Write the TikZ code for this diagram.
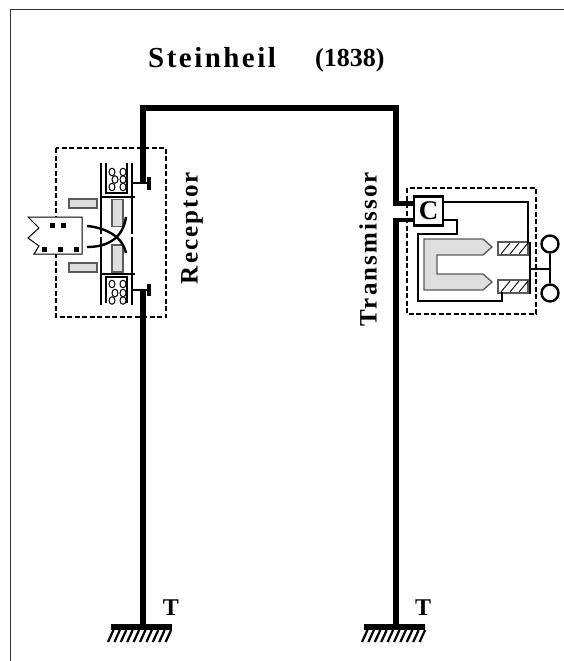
\documentclass[tikz,border=0pt]{standalone}
\usepackage{fontspec}
\setmainfont{Liberation Serif}
\newfontfamily\widefont[LetterSpace=8.5]{Liberation Serif}
\usepackage{tikz}
\usetikzlibrary{arrows.meta, positioning, calc}
\definecolor{magnetgray}{RGB}{222,222,222}
\definecolor{edgegray}{RGB}{90,90,90}
\tikzset{
  wire/.style={line width=5.8pt, line cap=butt, line join=miter},
  stubwire/.style={line width=4.4pt, line cap=butt},
  thinwire/.style={line width=2.6pt, line join=miter},
  boxline/.style={line width=1.3pt},
  dashbox/.style={line width=1.5pt, dash pattern=on 5pt off 2.5pt},
  graypart/.style={fill=magnetgray, draw=edgegray, line width=1.3pt},
  label/.style={font=\widefont\bfseries\fontsize{25}{27}\selectfont, inner sep=0pt},
  earthname/.style={font=\bfseries\fontsize{24}{24}\selectfont, inner sep=0pt},
  hatchline/.style={line width=2.2pt, line cap=butt},
  keyball/.style={draw, circle, line width=2.4pt, fill=white, minimum size=17pt, inner sep=0pt}
}
\begin{document}
\begin{tikzpicture}[x=1pt,y=-1pt]
  \useasboundingbox (0,0) rectangle (564,661);
  % Frame
  \draw[line width=1pt, black!80] (10,661) -- (10,10) -- (564,10);

  % --- Title ---
  \node[font=\widefont\bfseries\fontsize{29}{31}\selectfont, inner sep=0pt, anchor=west] (title) at (148,58) {Steinheil};
  \node[font=\bfseries\fontsize{26}{28}\selectfont, inner sep=0pt, anchor=west] (year) at (315,60) {(1838)};

  % --- Line and earth ---
  \coordinate (earthL) at (143,627);
  \coordinate (earthR) at (396,627);
  \coordinate (termU) at (143,183);
  \coordinate (termD) at (143,290);
  \node[draw, line width=2.6pt, minimum size=29pt, inner sep=0pt, font=\bfseries\fontsize{27}{27}\selectfont] (C) at (428.5,211) {C};
  \draw[wire] (termU) -- (143,108) -- (396,108) -- (396,206);
  \draw[stubwire] (393,203.5) -- (C.west |- 0,203.5);
  \draw[stubwire] (393,220) -- (C.west |- 0,220);
  \draw[wire] (396,218) -- (earthR);
  \draw[wire] (termD) -- (earthL);
  \draw[wire] (111,627) -- (172,627);
  \draw[wire] (364,627) -- (425,627);
  \foreach \x in {0,...,9} {
    \draw[hatchline] (108+\x*6.4,642) -- (113.5+\x*6.4,630);
    \draw[hatchline] (362+\x*6.4,642) -- (367.5+\x*6.4,630);
  }
  \node[earthname] (tleft) at (171,608) {T};
  \node[earthname] (tright) at (423,608) {T};

  % --- Receptor ---
  \draw[dashbox] (56,148) rectangle (166,317);
  \node[label, rotate=90] (rec) at (192,228) {Receptor};
  % terminals
  \draw[thinwire, line width=2.2pt] (132,183) -- (149,183);
  \draw[thinwire, line width=3.3pt] (149,177) -- (149,190);
  \draw[thinwire, line width=2.2pt] (132,290) -- (149,290);
  \draw[thinwire, line width=3.3pt] (149,284) -- (149,296);
  % coil frames
  \draw[boxline] (101,163) -- (101,234);
  \draw[boxline] (132,163) -- (132,234);
  \draw[boxline] (101,237) -- (101,305);
  \draw[boxline] (132,237) -- (132,305);
  \draw[boxline] (106,163) -- (106,193) -- (127,193) -- (127,163);
  \draw[boxline] (106,303) -- (106,277) -- (127,277) -- (127,303);
  \draw[line width=2.2pt] (100,197) -- (135,197);
  \draw[line width=2.2pt] (100,274) -- (135,274);
  % windings
  \foreach \x/\y in {112/172,123/172,115/179.5,123/179.5,112/187,123/187,112/284,123/284,115/293,123/293,112/300.5,123/300.5} {
    \draw[line width=1pt] (\x,\y) ellipse (3 and 3.8);
  }
  % needles and magnets
  \draw[graypart] (112,199.5) rectangle (123,226.5);
  \draw[graypart] (112,245) rectangle (123,272);
  \draw[graypart] (69,199) rectangle (97,208);
  \draw[graypart] (69,263) rectangle (97,272);
  % paper strip
  \draw[fill=white, line width=1pt] (28,217) -- (82,217) -- (82,254) -- (34,254) -- (39,246) -- (28,238) -- (39,228) -- cycle;
  \foreach \x/\y in {52/225,63/225,44/249,60/249,76/249} {
    \fill (\x-2.5,\y-2.5) rectangle (\x+2.5,\y+2.5);
  }
  \draw[line width=2.4pt] (87,226) .. controls (108,228) and (123,238) .. (126,253);
  \draw[line width=2.4pt] (87,247) .. controls (108,247) and (123,238) .. (126,217);

  % --- Transmissor ---
  \node[label, rotate=90] (tra) at (368,249) {Transmissor};
  \draw[dashbox] (407,188) rectangle (536,314);
  \draw[graypart] (424,239) -- (483,239) -- (492,247) -- (483,255) -- (437,255) -- (437,274) -- (483,274) -- (492,282) -- (483,290) -- (424,290) -- cycle;
  % contact blocks
  \foreach \y in {242,280} {
    \draw[fill=white, draw=edgegray, line width=1.3pt] (498,\y) rectangle (528,\y+13);
    \foreach \x in {0,1,2} {
      \draw[line width=0.9pt] (501+\x*9,\y+12) -- (510+\x*9,\y+1);
    }
  }
  % circuit
  \draw[thinwire] (C.east |- 0,202) -- (528,202) -- (528,243);
  \draw[thinwire] (C.east |- 0,220) -- (457,220) -- (457,234) -- (418,234) -- (418,301) -- (502,301) -- (502,292);
  % key
  \node[keyball] (keyA) at (550,244) {};
  \node[keyball] (keyB) at (550,293) {};
  \draw[thinwire] (keyA) -- (keyB);
  \draw[thinwire] (530,269) -- (550,269);
  \draw[thinwire] (530,242) -- (530,294);
\end{tikzpicture}
\end{document}
